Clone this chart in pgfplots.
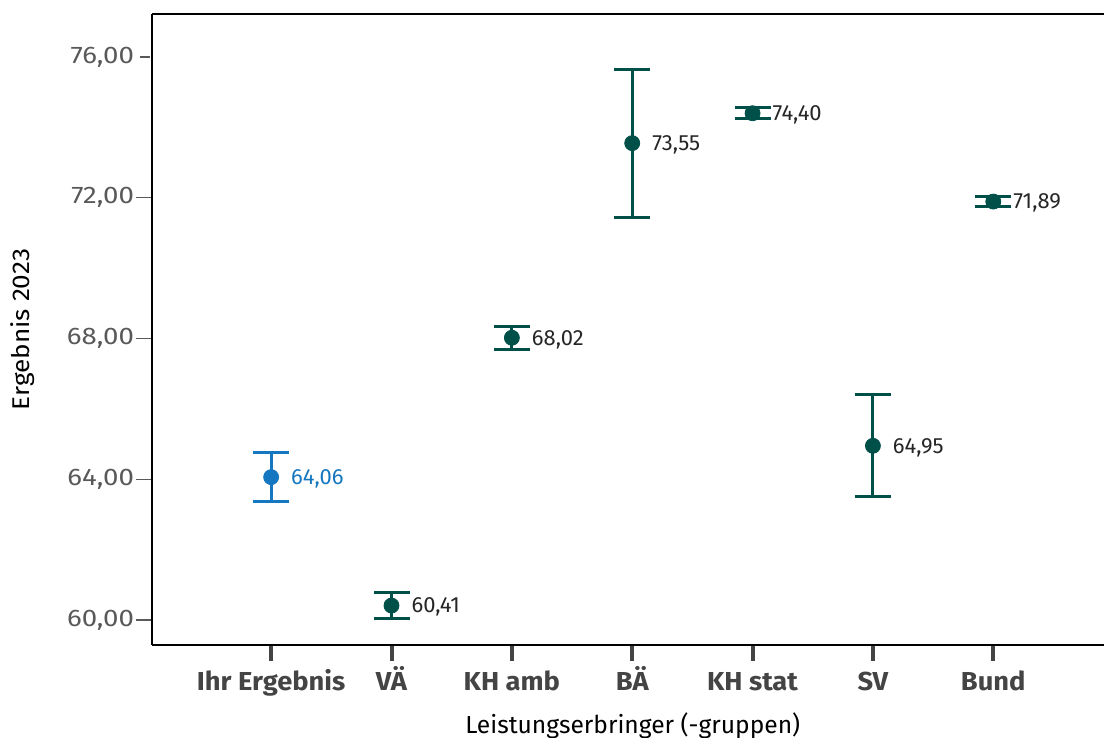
\documentclass[border=0pt]{standalone}
\usepackage{fontspec}
\setmainfont{Fira Sans}
\newfontfamily\xtfont[FakeStretch=1.05]{Fira Sans}
\newfontfamily\tickfont[FakeStretch=1.15]{Fira Sans}
\newfontfamily\ylfont[FakeStretch=1.08]{Fira Sans}
\usepackage{pgfplots}
\pgfplotsset{compat=1.18}
\usetikzlibrary{calc}
\definecolor{ihrblue}{HTML}{1577BF}
\definecolor{teal}{HTML}{00504A}
\definecolor{ticklab}{HTML}{595959}
\definecolor{xticklab}{HTML}{444444}
\pgfplotstableread{
x y e label
0 64.06 0.70 64,06
}\ihr
\pgfplotstableread{
x y e label
1 60.41 0.36 60,41
2 68.02 0.33 68,02
3 73.55 2.10 73,55
4 74.40 0.16 74,40
5 64.95 1.45 64,95
6 71.89 0.13 71,89
}\others
\begin{document}
\begin{tikzpicture}
\begin{axis}[name=ax,
  scale only axis, width=476pt, height=315.5pt,
  xmin=-0.99, xmax=6.92, ymin=59.29, ymax=77.22,
  axis lines=left, axis line style={-, line width=1pt, black},
  xtick={0,1,2,3,4,5,6},
  xticklabels={Ihr Ergebnis, VÄ, KH amb, BÄ, KH stat, SV, Bund},
  ytick={60,64,68,72,76},
  yticklabels={{60,00},{64,00},{68,00},{72,00},{76,00}},
  tick align=outside, major tick length=8pt,
  x tick style={line width=2pt, color=xticklab},
  y tick style={line width=0.7pt, color=ticklab, shorten >=1pt, shorten <=2pt},
  x tick label style={font=\xtfont\bfseries\fontsize{13}{15}\selectfont, color=xticklab, anchor=base, yshift=-14.6pt},
  y tick label style={font=\tickfont\fontsize{12}{14}\selectfont, color=ticklab, xshift=2.5pt},
  xlabel={Leistungserbringer (-gruppen)},
  ylabel={Ergebnis 2023},
  every axis x label/.style={at={(axis description cs:0.505,0)}, yshift=-40.5pt, anchor=center, font=\fontsize{12.3}{14}\selectfont},
  every axis y label/.style={at={(axis description cs:0,0.5)}, xshift=-64.5pt, rotate=90, anchor=center, font=\ylfont\fontsize{12.1}{14}\selectfont},
  clip=false,
]
\addplot[only marks, mark=*, mark size=3.75pt, color=ihrblue,
  error bars/.cd, y dir=both, y explicit,
  error bar style={line width=1.45pt, color=ihrblue},
  error mark options={rotate=90, line width=1.5pt, mark size=9pt, color=ihrblue}]
  table[x=x, y=y, y error=e]{\ihr};
\addplot[only marks, mark=*, mark size=3.75pt, color=teal,
  error bars/.cd, y dir=both, y explicit,
  error bar style={line width=1.45pt, color=teal},
  error mark options={rotate=90, line width=1.5pt, mark size=9pt, color=teal}]
  table[x=x, y=y, y error=e]{\others};
\addplot[only marks, mark=none, nodes near coords, point meta=explicit symbolic,
  nodes near coords style={anchor=west, xshift=6.5pt, yshift=-0.8pt, color=ihrblue, font=\fontsize{11}{13}\selectfont}]
  table[x=x, y=y, meta=label]{\ihr};
\addplot[only marks, mark=none, nodes near coords, point meta=explicit symbolic,
  nodes near coords style={anchor=west, xshift=6.5pt, yshift=-0.8pt, color=black!85, font=\fontsize{11}{13}\selectfont}]
  table[x=x, y=y, meta=label]{\others};
\draw[line width=1pt, black] (rel axis cs:0,1) -- (rel axis cs:1,1);
\end{axis}
\pgfresetboundingbox
\path ($(ax.south west)+(-76pt,-46.5pt)$) rectangle ($(ax.north east)+(0,7pt)$);
\end{tikzpicture}
\end{document}
